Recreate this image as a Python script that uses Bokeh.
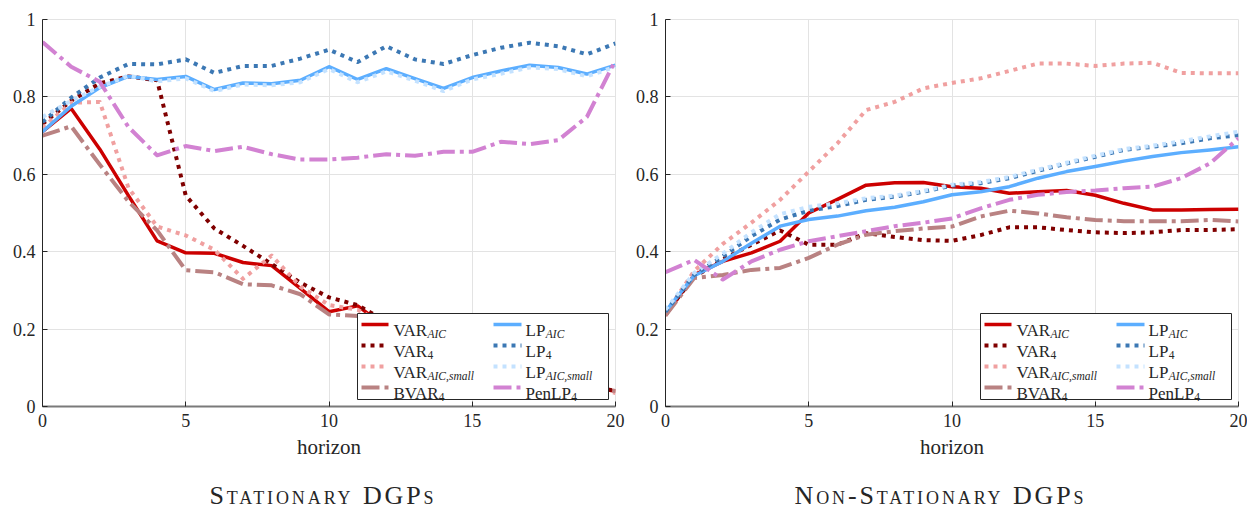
from bokeh.plotting import figure
from bokeh.models import (Range1d, FixedTicker, CustomJSTickFormatter, BoxAnnotation,
                          Arrow, Label, Div)
from bokeh.layouts import row, column
from bokeh.embed import file_html
from bokeh.resources import INLINE

# ---------------- data ----------------
horizon = list(range(21))
x_ticks = [0, 5, 10, 15, 20]
y_ticks = [0, 0.2, 0.4, 0.6, 0.8, 1.0]

# Stationary DGPs
st_var_aic = [0.71, 0.77, 0.665, 0.545, 0.428, 0.397, 0.396, 0.372, 0.364, 0.305, 0.245,
              0.26, 0.205, 0.175, 0.15, 0.125, 0.105, 0.085, 0.065, 0.05, 0.04]
st_var4 = [0.73, 0.79, 0.835, 0.853, 0.843, 0.545, 0.46, 0.415, 0.368, 0.32, 0.282,
           0.262, 0.22, 0.19, 0.16, 0.135, 0.11, 0.09, 0.07, 0.055, 0.04]
st_var_small = [0.72, 0.785, 0.787, 0.565, 0.465, 0.442, 0.405, 0.33, 0.39, 0.31, 0.262,
                0.25, 0.21, 0.18, 0.15, 0.13, 0.11, 0.09, 0.07, 0.055, 0.035]
st_bvar4 = [0.70, 0.724, 0.625, 0.53, 0.455, 0.352, 0.347, 0.316, 0.313, 0.29, 0.238,
            0.234, 0.2, 0.17, 0.14, 0.12, 0.1, 0.08, 0.065, 0.05, 0.04]
st_lp_aic = [0.71, 0.776, 0.824, 0.853, 0.845, 0.853, 0.819, 0.836, 0.834, 0.843, 0.878,
             0.845, 0.873, 0.847, 0.822, 0.85, 0.867, 0.882, 0.876, 0.859, 0.882]
st_lp4 = [0.735, 0.798, 0.85, 0.885, 0.884, 0.897, 0.862, 0.88, 0.88, 0.899, 0.922,
          0.89, 0.931, 0.897, 0.885, 0.908, 0.927, 0.94, 0.931, 0.91, 0.938]
st_lp_small = [0.748, 0.79, 0.826, 0.855, 0.84, 0.848, 0.815, 0.832, 0.83, 0.838, 0.872,
               0.838, 0.866, 0.842, 0.815, 0.845, 0.86, 0.876, 0.872, 0.853, 0.878]
st_penlp4 = [0.942, 0.878, 0.839, 0.722, 0.649, 0.673, 0.66, 0.671, 0.652, 0.638, 0.638,
             0.643, 0.652, 0.648, 0.658, 0.658, 0.684, 0.678, 0.688, 0.748, 0.895]

# Non-stationary DGPs
ns_var_aic = [0.235, 0.34, 0.375, 0.397, 0.427, 0.50, 0.535, 0.572, 0.578, 0.579, 0.568,
              0.564, 0.551, 0.555, 0.558, 0.546, 0.525, 0.508, 0.508, 0.509, 0.51]
ns_var4 = [0.24, 0.335, 0.38, 0.418, 0.455, 0.418, 0.418, 0.448, 0.438, 0.43, 0.428,
           0.443, 0.463, 0.463, 0.456, 0.45, 0.448, 0.45, 0.456, 0.456, 0.458]
ns_var_small = [0.24, 0.35, 0.42, 0.475, 0.534, 0.607, 0.68, 0.766, 0.787, 0.822, 0.836,
                0.848, 0.867, 0.886, 0.886, 0.88, 0.886, 0.888, 0.862, 0.861, 0.861]
ns_bvar4 = [0.235, 0.332, 0.34, 0.353, 0.358, 0.384, 0.418, 0.444, 0.453, 0.46, 0.465,
            0.491, 0.506, 0.499, 0.489, 0.482, 0.479, 0.479, 0.479, 0.482, 0.478]
ns_lp_aic = [0.246, 0.338, 0.375, 0.422, 0.466, 0.483, 0.492, 0.506, 0.515, 0.529, 0.547,
             0.555, 0.568, 0.59, 0.607, 0.62, 0.634, 0.646, 0.656, 0.663, 0.671]
ns_lp4 = [0.245, 0.34, 0.388, 0.44, 0.483, 0.506, 0.518, 0.534, 0.542, 0.555, 0.571,
          0.577, 0.59, 0.609, 0.628, 0.645, 0.663, 0.671, 0.68, 0.693, 0.701]
ns_lp_small = [0.25, 0.345, 0.395, 0.45, 0.497, 0.516, 0.525, 0.538, 0.545, 0.557, 0.573,
               0.58, 0.593, 0.612, 0.63, 0.648, 0.665, 0.674, 0.685, 0.698, 0.71]
ns_penlp4 = [0.347, 0.379, 0.328, 0.375, 0.405, 0.427, 0.44, 0.453, 0.466, 0.475, 0.486,
             0.512, 0.534, 0.547, 0.554, 0.558, 0.564, 0.568, 0.59, 0.628, 0.693]

series_keys = ["var_aic", "var4", "var_small", "bvar4", "lp_aic", "lp4", "lp_small", "penlp4"]
legend_main = ["VAR", "VAR", "VAR", "BVAR", "LP", "LP", "LP", "PenLP"]
legend_sub = ["AIC", "4", "AIC,small", "4", "AIC", "4", "AIC,small", "4"]

stationary = dict(zip(series_keys, [st_var_aic, st_var4, st_var_small, st_bvar4,
                                    st_lp_aic, st_lp4, st_lp_small, st_penlp4]))
nonstationary = dict(zip(series_keys, [ns_var_aic, ns_var4, ns_var_small, ns_bvar4,
                                       ns_lp_aic, ns_lp4, ns_lp_small, ns_penlp4]))

titles = ["Stationary DGPs", "Non-Stationary DGPs"]

# ---------------- styles ----------------
FONT = "Times New Roman, Liberation Serif, DejaVu Serif, serif"
TXT = "#262626"
DOT = "4 5"
DASHDOT = "18 5 4 5"
STYLE = {
    "var_aic":   dict(color="#cc0000", dash="solid", width=3.5),
    "var4":      dict(color="#800000", dash=DOT, width=4),
    "var_small": dict(color="#f0a0a0", dash=DOT, width=4),
    "bvar4":     dict(color="#b98282", dash=DASHDOT, width=4),
    "lp_aic":    dict(color="#5caeff", dash="solid", width=3.5),
    "lp4":       dict(color="#3c78b4", dash=DOT, width=4),
    "lp_small":  dict(color="#c4e2ff", dash=DOT, width=4),
    "penlp4":    dict(color="#d282d2", dash=DASHDOT, width=4),
}
MAIN_W = {"VAR": 33.5, "BVAR": 44.8, "LP": 19.8, "PenLP": 45.3}


def add_legend(p):
    p.add_layout(BoxAnnotation(left=315, right=566, bottom=7, top=93,
                               left_units="screen", right_units="screen",
                               top_units="screen", bottom_units="screen",
                               fill_color="white", fill_alpha=1.0,
                               line_color=TXT, line_width=1, line_alpha=1.0))
    rows_y = [82, 61, 40, 19]
    cols = [(319, 346, 351), (451, 479, 483)]
    for i, key in enumerate(series_keys):
        c, r = divmod(i, 4)
        x0, x1, tx = cols[c]
        y = rows_y[r]
        st = STYLE[key]
        p.add_layout(Arrow(end=None, x_start=x0, y_start=y, x_end=x1, y_end=y,
                           start_units="screen", end_units="screen",
                           line_color=st["color"], line_width=st["width"],
                           line_dash=st["dash"]))
        main = legend_main[i]
        sub = legend_sub[i]
        p.add_layout(Label(x=tx, y=y - 6, x_units="screen", y_units="screen", text=main,
                           text_font=FONT, text_font_size="17px", text_color=TXT,
                           text_baseline="alphabetic"))
        p.add_layout(Label(x=tx + MAIN_W[main] + 0.5, y=y - 9, x_units="screen",
                           y_units="screen", text=sub, text_font=FONT,
                           text_font_size="11.5px", text_color=TXT,
                           text_font_style="normal" if sub == "4" else "italic",
                           text_baseline="alphabetic"))


def build(width, bl, br, data):
    p = figure(width=width, height=468, x_range=Range1d(0, 20), y_range=Range1d(0, 1),
               output_backend="svg", toolbar_location=None,
               min_border_left=bl, min_border_right=br, min_border_top=19,
               min_border_bottom=62, outline_line_color="#e3e3e3",
               background_fill_color="white", border_fill_color="white")
    p.xgrid.ticker = FixedTicker(ticks=x_ticks)
    p.ygrid.ticker = FixedTicker(ticks=y_ticks)
    p.grid.grid_line_color = "#e3e3e3"
    p.grid.grid_line_width = 1

    p.xaxis.ticker = FixedTicker(ticks=x_ticks)
    p.yaxis.ticker = FixedTicker(ticks=y_ticks)
    p.yaxis.formatter = CustomJSTickFormatter(code="return String(Math.round(tick*10)/10)")
    p.xaxis.formatter = CustomJSTickFormatter(code="return String(Math.round(tick))")
    for ax in (p.xaxis[0], p.yaxis[0]):
        ax.major_tick_in = 5
        ax.major_tick_out = 0
        ax.minor_tick_line_color = None
        ax.major_tick_line_color = TXT
        ax.major_label_text_color = TXT
        ax.major_label_text_font = FONT
        ax.major_label_text_font_size = "18px"
        ax.major_label_standoff = 7
    p.yaxis.axis_line_color = TXT
    p.yaxis.axis_line_width = 1
    p.xaxis.axis_line_color = "#7a7a7a"
    p.xaxis.axis_line_width = 2
    p.xaxis.axis_label = "horizon"
    p.xaxis.axis_label_text_font = FONT
    p.xaxis.axis_label_text_font_size = "21px"
    p.xaxis.axis_label_text_font_style = "normal"
    p.xaxis.axis_label_text_color = TXT
    p.xaxis.axis_label_standoff = 5

    for key in series_keys:
        st = STYLE[key]
        p.line(horizon, data[key], line_color=st["color"], line_width=st["width"],
               line_dash=st["dash"], line_join="round")
    add_legend(p)
    return p


p1 = build(632, 42, 17, stationary)
p2 = build(615, 32, 9, nonstationary)


def title_div(text, width, pad_left, pad_right):
    html = ('<div style="width:%dpx;box-sizing:border-box;'
            'font-family:\'Times New Roman\',\'Liberation Serif\',\'DejaVu Serif\',serif;'
            'font-variant:small-caps;'
            'font-size:26px;letter-spacing:2.9px;line-height:10px;padding-top:18px;'
            'padding-left:%dpx;padding-right:%dpx;text-align:center;color:#262626;'
            'white-space:nowrap;">%s</div>'
            % (width, pad_left, pad_right, text))
    return Div(text=html, width=width, height=42)


d1 = title_div(titles[0], 632, 4, 0)
d2 = title_div(titles[1], 615, 0, 28)

layout = column(row(p1, p2), row(d1, d2))
open("out.html", "w").write(file_html(layout, INLINE))
